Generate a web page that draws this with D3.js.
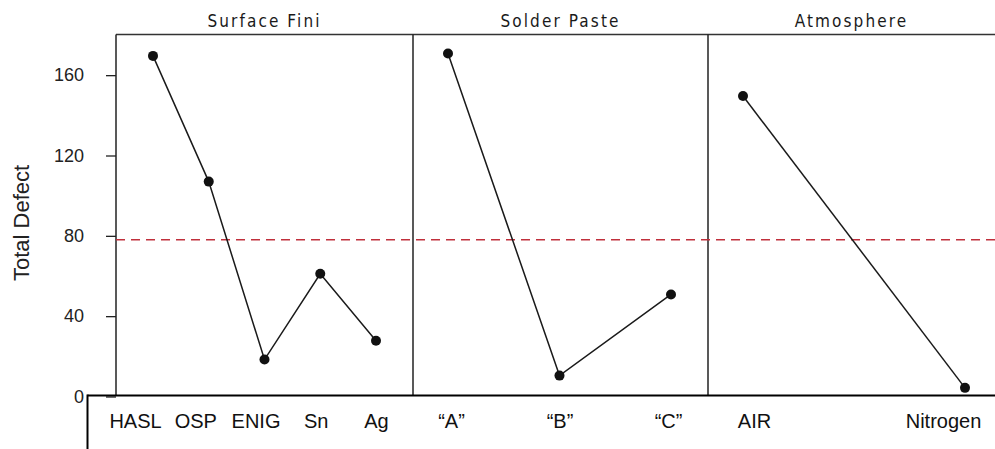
<!DOCTYPE html>
<html>
<head>
<meta charset="utf-8">
<script src="https://cdn.jsdelivr.net/npm/d3@7"></script>
<style>
  html, body { margin: 0; padding: 0; background: #fff; }
  svg { display: block; }
</style>
</head>
<body>
<svg id="chart" width="995" height="449"></svg>
<script>
// ---- data ----
const factors = ["Surface Fini", "Solder Paste", "Atmosphere"];
const surfaceCats = ["HASL", "OSP", "ENIG", "Sn", "Ag"];
const surfaceVals = [169.6, 107, 18.4, 61.1, 27.8];
const pasteCats = ["\u201CA\u201D", "\u201CB\u201D", "\u201CC\u201D"];
const pasteVals = [170.8, 10.4, 50.8];
const atmosCats = ["AIR", "Nitrogen"];
const atmosVals = [149.6, 4.3];
const meanValue = 78;
const yTicks = [0, 40, 80, 120, 160];
const yLabel = "Total Defect";

// ---- layout ----
const W = 995, H = 449;
const plotTop = 34.5, plotBottom = 395.5, plotLeft = 116, plotRight = 995;
const panelEdges = [116, 413, 708, 995];
const pointRanges = [[153, 376], [448, 671], [743, 965]];
const labelRanges = [[135, 376], [451, 668], [754, 943]];

const panels = [
  { title: factors[0], cats: surfaceCats, vals: surfaceVals },
  { title: factors[1], cats: pasteCats, vals: pasteVals },
  { title: factors[2], cats: atmosCats, vals: atmosVals }
];

const svg = d3.select("#chart");
const y = d3.scaleLinear().domain([0, 180]).range([396.5, 35]);

// panel frame lines
svg.append("line")
  .attr("x1", plotLeft).attr("x2", plotRight)
  .attr("y1", plotTop).attr("y2", plotTop)
  .attr("stroke", "#333").attr("stroke-width", 1.5);
panelEdges.slice(0, 3).forEach(x => {
  svg.append("line")
    .attr("x1", x).attr("x2", x)
    .attr("y1", plotTop).attr("y2", plotBottom)
    .attr("stroke", "#222").attr("stroke-width", 1.5);
});

// y axis
const yAxis = d3.axisLeft(y).tickValues(yTicks).tickSize(10).tickPadding(22).tickFormat(d3.format("d"));
const gy = svg.append("g").attr("transform", `translate(${plotLeft},0)`).call(yAxis);
gy.select(".domain").remove();
gy.selectAll(".tick line").attr("stroke", "#222").attr("stroke-width", 1.3);
gy.selectAll(".tick text")
  .attr("font-family", "'Liberation Sans Narrow', 'Arial Narrow', 'Liberation Sans', Arial, sans-serif")
  .attr("font-size", 18).attr("fill", "#222").attr("dx", 0);

svg.append("text")
  .attr("transform", "translate(28.5,223) rotate(-90)")
  .attr("text-anchor", "middle")
  .attr("font-family", "'Liberation Sans', Arial, sans-serif")
  .attr("font-size", 22).attr("fill", "#222")
  .text(yLabel);

// mean dashed line
svg.append("line")
  .attr("x1", plotLeft).attr("x2", plotRight)
  .attr("y1", y(meanValue)).attr("y2", y(meanValue))
  .attr("stroke", "#c0303c").attr("stroke-width", 1.5)
  .attr("stroke-dasharray", "9,6");

// panels
panels.forEach((p, i) => {
  const cx = (panelEdges[i] + panelEdges[i + 1]) / 2;
  svg.append("text")
    .attr("x", cx).attr("y", 26.5)
    .attr("text-anchor", "middle")
    .attr("font-family", "'DejaVu Sans Condensed', 'DejaVu Sans', sans-serif")
    .attr("font-stretch", "condensed")
    .attr("font-size", 17).attr("letter-spacing", 2.1).attr("fill", "#1a1a1a")
    .text(p.title);

  const x = d3.scalePoint().domain(p.cats).range(pointRanges[i]);
  const xl = d3.scalePoint().domain(p.cats).range(labelRanges[i]);

  const line = d3.line().x((d, j) => x(p.cats[j])).y(d => y(d));
  svg.append("path")
    .datum(p.vals)
    .attr("d", line)
    .attr("fill", "none").attr("stroke", "#1a1a1a").attr("stroke-width", 1.5);

  svg.selectAll(null)
    .data(p.vals)
    .enter().append("circle")
    .attr("cx", (d, j) => x(p.cats[j]))
    .attr("cy", d => y(d))
    .attr("r", 5).attr("fill", "#111");

  const xAxis = d3.axisBottom(xl).tickSize(0).tickPadding(0);
  const gx = svg.append("g").attr("transform", `translate(0,${plotBottom})`).call(xAxis);
  gx.select(".domain").remove();
  gx.selectAll(".tick text")
    .attr("font-family", "'Liberation Sans', Arial, sans-serif")
    .attr("font-size", 20).attr("fill", "#111")
    .attr("dy", null).attr("y", 32);
});

// bottom category box
svg.append("line")
  .attr("x1", 87.5).attr("x2", W)
  .attr("y1", plotBottom).attr("y2", plotBottom)
  .attr("stroke", "#000").attr("stroke-width", 2);
svg.append("line")
  .attr("x1", 87.5).attr("x2", 87.5)
  .attr("y1", plotBottom - 1).attr("y2", H)
  .attr("stroke", "#000").attr("stroke-width", 2);
</script>
</body>
</html>
